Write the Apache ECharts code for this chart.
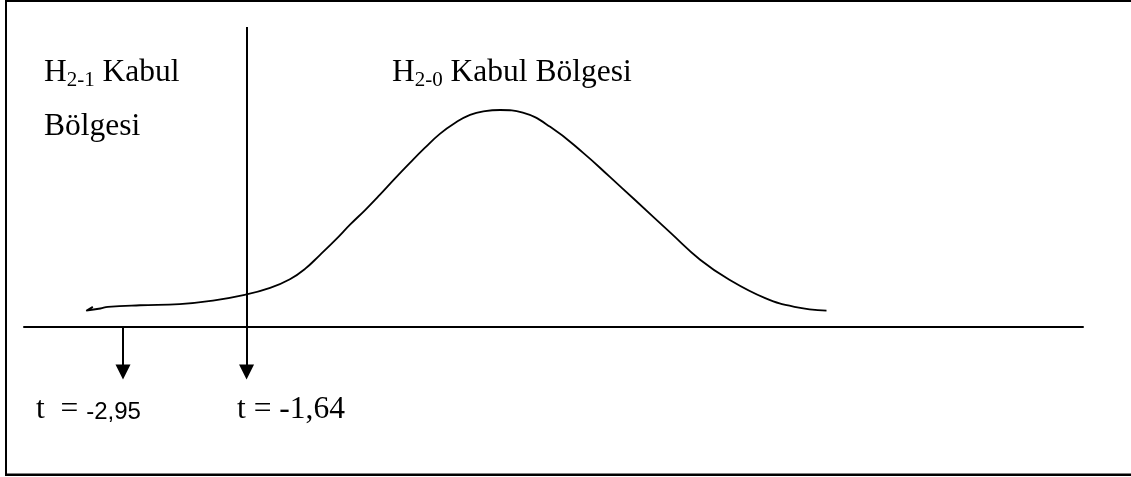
<!DOCTYPE html>
<html>
<head>
<meta charset="utf-8">
<script src="https://cdn.jsdelivr.net/npm/echarts@6.0.0/dist/echarts.min.js"></script>
<style>
html, body { margin: 0; padding: 0; background: #fff; }
#chart { width: 1131px; height: 477px; }
</style>
</head>
<body>
<div id="chart"></div>
<script>
// hand drawn bell curve, x in t units, y as density
const curveT = [-3.27, -3.34, -3.19, -3.11, -2.77, -2.35, -1.98, -1.66, -1.39, -1.18, -1.02, -0.86, -0.70, -0.54, -0.38, -0.23, -0.07, 0.09, 0.25, 0.41, 0.57, 0.73, 0.89, 1.05, 1.29, 1.58, 1.93, 2.21, 2.48, 2.86, 3.17, 3.48, 3.86, 4.17, 4.51];
const curveY = [0.037, 0.030, 0.034, 0.037, 0.040, 0.042, 0.049, 0.059, 0.072, 0.088, 0.107, 0.133, 0.160, 0.189, 0.216, 0.243, 0.273, 0.302, 0.330, 0.356, 0.376, 0.391, 0.398, 0.400, 0.395, 0.369, 0.321, 0.277, 0.234, 0.173, 0.124, 0.087, 0.053, 0.037, 0.030];

// critical values
const tTable = -2.95;
const tCritical = -1.64;

const xMin = -4, xMax = 7.23;
const yMin = -0.096, yMax = 0.553;
const arrowEnd = -0.083;

const serif = '"Liberation Serif", "Times New Roman", serif';
const sans = '"Liberation Sans", Arial, sans-serif';

const chart = echarts.init(document.getElementById('chart'));

const option = {
    animation: false,
    backgroundColor: '#fff',
    grid: { left: 24, right: 48, top: 27, bottom: 98 },
    xAxis: {
        type: 'value',
        min: xMin,
        max: xMax,
        axisLine: { show: true, onZero: true, lineStyle: { color: '#000', width: 2 } },
        axisTick: { show: false },
        axisLabel: { show: false },
        splitLine: { show: false }
    },
    yAxis: {
        type: 'value',
        min: yMin,
        max: yMax,
        show: false
    },
    series: [{
        type: 'line',
        data: curveT.map((t, i) => [t, curveY[i]]),
        smooth: 0.45,
        symbol: 'none',
        lineStyle: { color: '#000', width: 1.8 },
        markLine: {
            silent: true,
            symbol: ['none', 'triangle'],
            symbolSize: 15,
            label: { show: false },
            lineStyle: { color: '#000', width: 2, type: 'solid' },
            itemStyle: { color: '#000' },
            data: [
                [{ coord: [tCritical, yMax] }, { coord: [tCritical, arrowEnd] }],
                [{ coord: [tTable, 0] }, { coord: [tTable, arrowEnd] }]
            ]
        }
    }],
    graphic: [
        { type: 'line', shape: { x1: 5, y1: 1, x2: 1131, y2: 1 }, style: { stroke: '#000', lineWidth: 2 } },
        { type: 'line', shape: { x1: 6, y1: 0, x2: 6, y2: 476 }, style: { stroke: '#000', lineWidth: 2 } },
        { type: 'line', shape: { x1: 5, y1: 474.7, x2: 1131, y2: 474.7 }, style: { stroke: '#000', lineWidth: 2.5 } },
        {
            type: 'text', x: 44, y: 73,
            style: {
                text: '{m|H}{s|2-1}{m| Kabul}',
                verticalAlign: 'middle',
                rich: {
                    m: { font: '31.5px ' + serif, fill: '#000' },
                    s: { font: '21px ' + serif, fill: '#000', padding: [15, 0, 0, 0] }
                }
            }
        },
        {
            type: 'text', x: 44, y: 127,
            style: { text: 'Bölgesi', font: '31.5px ' + serif, fill: '#000', verticalAlign: 'middle' }
        },
        {
            type: 'text', x: 392, y: 73,
            style: {
                text: '{m|H}{s|2-0}{m| Kabul Bölgesi}',
                verticalAlign: 'middle',
                rich: {
                    m: { font: '31.5px ' + serif, fill: '#000' },
                    s: { font: '21px ' + serif, fill: '#000', padding: [15, 0, 0, 0] }
                }
            }
        },
        {
            type: 'text', x: 36, y: 410,
            style: {
                text: '{m|t  = }{a|-2,95}',
                verticalAlign: 'middle',
                rich: {
                    m: { font: '31.5px ' + serif, fill: '#000' },
                    a: { font: '24px ' + sans, fill: '#000', padding: [5, 0, 0, 0] }
                }
            }
        },
        {
            type: 'text', x: 237, y: 410,
            style: { text: 't = -1,64', font: '31.5px ' + serif, fill: '#000', verticalAlign: 'middle' }
        }
    ]
};

chart.setOption(option);
window.addEventListener('resize', () => {
    chart.resize();
});
</script>
</body>
</html>
